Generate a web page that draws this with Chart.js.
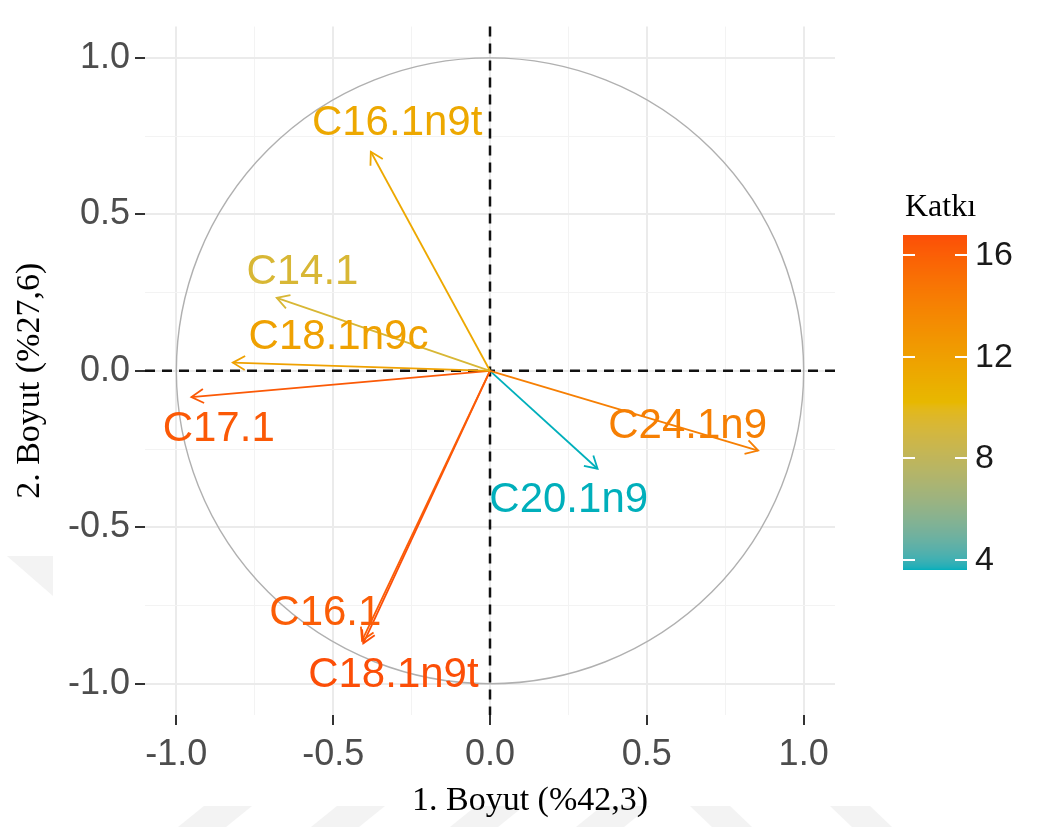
<!DOCTYPE html>
<html>
<head>
<meta charset="utf-8">
<script src="https://cdn.jsdelivr.net/npm/chart.js@4.4.0/dist/chart.umd.min.js"></script>
<style>
  html, body { margin: 0; padding: 0; background: #fff; }
  #kutu { width: 1038px; height: 827px; }
</style>
</head>
<body>
<div id="kutu"><canvas id="pcaGrafik" width="1038" height="827"></canvas></div>
<script>
// degisken koordinatlari (1. ve 2. boyut) ve katki yuzdeleri
const degiskenler = ['C16.1n9t', 'C14.1', 'C18.1n9c', 'C17.1', 'C16.1', 'C18.1n9t', 'C24.1n9', 'C20.1n9'];
const boyut1 = [-0.38, -0.68, -0.82, -0.952, -0.408, -0.404, 0.855, 0.343];
const boyut2 = [0.70, 0.233, 0.026, -0.084, -0.862, -0.871, -0.255, -0.313];
const katki = [11.4, 9.3, 11.9, 16.3, 16.1, 16.8, 14.2, 3.6];

// etiketlerin yerleri (veri biriminde)
const etiketX = [-0.296, -0.598, -0.483, -0.865, -0.525, -0.308, 0.630, 0.251];
const etiketY = [0.791, 0.313, 0.108, -0.188, -0.775, -0.973, -0.179, -0.415];

const eksenTikleri = [-1.0, -0.5, 0.0, 0.5, 1.0];
const izgaraDegerleri = [-1.0, -0.75, -0.5, -0.25, 0.0, 0.25, 0.5, 0.75, 1.0];
const katkiTikleri = [4, 8, 12, 16];
const renkler = ['#00AFBB', '#E7B800', '#FC4E07'];

const katkiMin = Math.min(...katki);
const katkiMax = Math.max(...katki);

// renk gecisi Lab uzayinda
function hexRgb(h) {
    return [1, 3, 5].map(i => parseInt(h.substr(i, 2), 16));
}
function rgbLab(c) {
    const l = c.map(v => { v /= 255; return v <= 0.04045 ? v / 12.92 : Math.pow((v + 0.055) / 1.055, 2.4); });
    let X = (0.4124 * l[0] + 0.3576 * l[1] + 0.1805 * l[2]) / 0.95047;
    let Y = (0.2126 * l[0] + 0.7152 * l[1] + 0.0722 * l[2]);
    let Z = (0.0193 * l[0] + 0.1192 * l[1] + 0.9505 * l[2]) / 1.08883;
    const f = t => t > 0.008856 ? Math.cbrt(t) : 7.787 * t + 16 / 116;
    const fx = f(X), fy = f(Y), fz = f(Z);
    return [116 * fy - 16, 500 * (fx - fy), 200 * (fy - fz)];
}
function labRgb(lab) {
    const fy = (lab[0] + 16) / 116, fx = fy + lab[1] / 500, fz = fy - lab[2] / 200;
    const g = t => t * t * t > 0.008856 ? t * t * t : (t - 16 / 116) / 7.787;
    const X = g(fx) * 0.95047, Y = g(fy), Z = g(fz) * 1.08883;
    const r = 3.2406 * X - 1.5372 * Y - 0.4986 * Z;
    const gg = -0.9689 * X + 1.8758 * Y + 0.0415 * Z;
    const b = 0.0557 * X - 0.2040 * Y + 1.0570 * Z;
    return [r, gg, b].map(v => {
        v = v <= 0.0031308 ? 12.92 * v : 1.055 * Math.pow(v, 1 / 2.4) - 0.055;
        return Math.round(Math.max(0, Math.min(1, v)) * 255);
    });
}
const labRenkler = renkler.map(h => rgbLab(hexRgb(h)));
function renk(v) {
    let t = (v - katkiMin) / (katkiMax - katkiMin);
    t = Math.max(0, Math.min(1, t));
    let a, b, u;
    if (t < 0.5) { a = labRenkler[0]; b = labRenkler[1]; u = t * 2; }
    else { a = labRenkler[1]; b = labRenkler[2]; u = (t - 0.5) * 2; }
    const c = labRgb(a.map((x, i) => x + (b[i] - x) * u));
    return 'rgb(' + c.join(',') + ')';
}

const anaTik = v => eksenTikleri.some(t => Math.abs(t - v) < 1e-9);

const eksenAyari = (boyut) => ({
    type: 'linear',
    min: -1.1,
    max: 1.1,
    afterBuildTicks: s => { s.ticks = izgaraDegerleri.map(v => ({ value: v })); },
    afterFit: s => { if (boyut === 'x') s.height = 112; else s.width = 145; },
    border: { display: false },
    grid: {
        color: c => anaTik(c.tick.value) ? '#EBEBEB' : '#F3F3F3',
        lineWidth: c => anaTik(c.tick.value) ? 2 : 1,
        tickColor: c => anaTik(c.tick.value) ? '#333333' : 'rgba(0,0,0,0)',
        tickLength: 10,
        tickWidth: 2
    },
    ticks: {
        autoSkip: false,
        maxRotation: 0,
        padding: boyut === 'x' ? 8 : 5,
        color: '#4D4D4D',
        font: { family: 'Liberation Sans, Arial, sans-serif', size: 36 },
        callback: v => anaTik(v) ? Number(v).toFixed(1) : ''
    }
});

const cizimEklentisi = {
    id: 'pcaCizim',
    beforeDraw(chart) {
        const c = chart.ctx;
        c.save();
        c.fillStyle = '#fff';
        c.fillRect(0, 0, chart.width, chart.height);
        // sayfanin altindaki soluk serit deseni
        c.fillStyle = '#F3F3F3';
        [[178, 1], [311, 1], [450, 1], [576, 1], [690, -1], [830, -1]].forEach(([x0, yon]) => {
            c.beginPath();
            if (yon > 0) {
                c.moveTo(x0, 827); c.lineTo(x0 + 48, 827); c.lineTo(x0 + 74, 806); c.lineTo(x0 + 26, 806);
            } else {
                c.moveTo(x0, 806); c.lineTo(x0 + 40, 806); c.lineTo(x0 + 62, 827); c.lineTo(x0 + 22, 827);
            }
            c.closePath(); c.fill();
        });
        c.beginPath();
        c.moveTo(7, 556); c.lineTo(53, 556); c.lineTo(53, 596); c.closePath(); c.fill();
        c.restore();
    },
    beforeDatasetsDraw(chart) {
        const c = chart.ctx, a = chart.chartArea;
        const xs = chart.scales.x, ys = chart.scales.y;
        const x0 = xs.getPixelForValue(0), y0 = ys.getPixelForValue(0);
        c.save();
        // korelasyon cemberi
        c.strokeStyle = '#B0B0B0';
        c.lineWidth = 1.4;
        c.beginPath();
        c.ellipse(x0, y0, xs.getPixelForValue(1) - x0, y0 - ys.getPixelForValue(1), 0, 0, Math.PI * 2);
        c.stroke();
        // sifir cizgileri
        c.strokeStyle = '#111';
        c.lineWidth = 2.5;
        c.setLineDash([10, 7]);
        c.beginPath();
        c.moveTo(a.left, y0); c.lineTo(a.right, y0);
        c.moveTo(x0, a.top); c.lineTo(x0, a.bottom);
        c.stroke();
        c.restore();
    },
    afterDatasetsDraw(chart) {
        const c = chart.ctx, a = chart.chartArea;
        const xs = chart.scales.x, ys = chart.scales.y;
        const x0 = xs.getPixelForValue(0), y0 = ys.getPixelForValue(0);
        c.save();
        // ok baslari
        degiskenler.forEach((ad, i) => {
            const px = xs.getPixelForValue(boyut1[i]), py = ys.getPixelForValue(boyut2[i]);
            const aci = Math.atan2(py - y0, px - x0);
            const uz = 14, acik = Math.PI / 6;
            c.strokeStyle = renk(katki[i]);
            c.lineWidth = 1.8;
            c.beginPath();
            c.moveTo(px - uz * Math.cos(aci - acik), py - uz * Math.sin(aci - acik));
            c.lineTo(px, py);
            c.lineTo(px - uz * Math.cos(aci + acik), py - uz * Math.sin(aci + acik));
            c.stroke();
        });
        // degisken etiketleri
        c.font = '42px "Liberation Sans", Arial, sans-serif';
        c.textAlign = 'center';
        c.textBaseline = 'middle';
        degiskenler.forEach((ad, i) => {
            c.fillStyle = renk(katki[i]);
            c.fillText(ad, xs.getPixelForValue(etiketX[i]), ys.getPixelForValue(etiketY[i]));
        });

        // eksen basliklari
        c.fillStyle = '#000';
        c.font = '34px "Liberation Serif", "Times New Roman", serif';
        c.fillText('1. Boyut (%42,3)', (a.left + a.right) / 2 + 40, 801);
        c.save();
        c.translate(30, (a.top + a.bottom) / 2 + 10);
        c.rotate(-Math.PI / 2);
        c.fillText('2. Boyut (%27,6)', 0, 0);
        c.restore();

        // renk cubugu (Katki)
        const solX = a.right + 68, gen = 64, ust = 235, alt = 570;
        const yPix = v => alt - (v - katkiMin) / (katkiMax - katkiMin) * (alt - ust);
        for (let y = ust; y < alt; y++) {
            const v = katkiMax - (y - ust + 0.5) / (alt - ust) * (katkiMax - katkiMin);
            c.fillStyle = renk(v);
            c.fillRect(solX, y, gen, 1);
        }
        c.strokeStyle = '#fff';
        c.lineWidth = 2;
        c.font = '34px "Liberation Sans", Arial, sans-serif';
        c.textAlign = 'left';
        katkiTikleri.forEach(t => {
            const y = Math.round(yPix(t));
            c.beginPath();
            c.moveTo(solX, y); c.lineTo(solX + 12, y);
            c.moveTo(solX + gen - 12, y); c.lineTo(solX + gen, y);
            c.stroke();
            c.fillStyle = '#1A1A1A';
            c.fillText(String(t), solX + gen + 8, y + 1);
        });
        c.fillStyle = '#000';
        c.font = '32px "Liberation Serif", "Times New Roman", serif';
        c.textBaseline = 'alphabetic';
        c.fillText('Katkı', solX + 2, 216);
        c.restore();
    }
};

new Chart(document.getElementById('pcaGrafik'), {
    type: 'scatter',
    data: {
        datasets: degiskenler.map((ad, i) => ({
            label: ad,
            data: [{ x: 0, y: 0 }, { x: boyut1[i], y: boyut2[i] }],
            showLine: true,
            borderColor: renk(katki[i]),
            borderWidth: 1.8,
            pointRadius: 0,
            tension: 0
        }))
    },
    options: {
        responsive: false,
        animation: false,
        layout: { padding: { top: 25, right: 203, bottom: 0, left: 0 } },
        plugins: { legend: { display: false }, tooltip: { enabled: false } },
        scales: { x: eksenAyari('x'), y: eksenAyari('y') }
    },
    plugins: [cizimEklentisi]
});
</script>
</body>
</html>
